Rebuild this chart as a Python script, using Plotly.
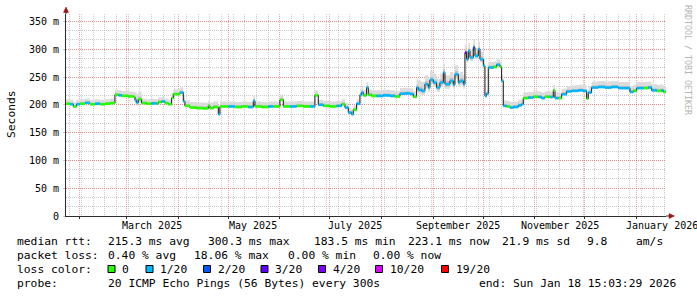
import plotly.graph_objects as go

# ---------------- data ----------------
start_time = "2025-01-23 15:03:29"
end_time = "2026-01-18 15:03:29"

dates = [
    "2025-01-23 15:03", "2025-01-26", "2025-01-28", "2025-01-30", "2025-02-01", "2025-02-04",
    "2025-02-07", "2025-02-10", "2025-02-13", "2025-02-16", "2025-02-19", "2025-02-22",
    "2025-02-24", "2025-02-26", "2025-03-02", "2025-03-05", "2025-03-06", "2025-03-07",
    "2025-03-08", "2025-03-10", "2025-03-13", "2025-03-16", "2025-03-19", "2025-03-20",
    "2025-03-22", "2025-03-24", "2025-03-26", "2025-03-28", "2025-03-29", "2025-04-01",
    "2025-04-02", "2025-04-04", "2025-04-05", "2025-04-08", "2025-04-12", "2025-04-16",
    "2025-04-19", "2025-04-20", "2025-04-22", "2025-04-25", "2025-04-26", "2025-05-01",
    "2025-05-05", "2025-05-09", "2025-05-13", "2025-05-16", "2025-05-17", "2025-05-21",
    "2025-05-25", "2025-05-28", "2025-06-01", "2025-06-03", "2025-06-07", "2025-06-11",
    "2025-06-15", "2025-06-19", "2025-06-22", "2025-06-24", "2025-06-27", "2025-07-01",
    "2025-07-05", "2025-07-08", "2025-07-10", "2025-07-12", "2025-07-14", "2025-07-15",
    "2025-07-17", "2025-07-19", "2025-07-20", "2025-07-21", "2025-07-23", "2025-07-24",
    "2025-07-26", "2025-07-29", "2025-08-02", "2025-08-06", "2025-08-09", "2025-08-12",
    "2025-08-15", "2025-08-18", "2025-08-20", "2025-08-22", "2025-08-23", "2025-08-25",
    "2025-08-27", "2025-08-29", "2025-08-30", "2025-09-01", "2025-09-03", "2025-09-05",
    "2025-09-07", "2025-09-08", "2025-09-11", "2025-09-13", "2025-09-14", "2025-09-16",
    "2025-09-17", "2025-09-19", "2025-09-20", "2025-09-21", "2025-09-22", "2025-09-23",
    "2025-09-25", "2025-09-26", "2025-09-28", "2025-09-29", "2025-10-01", "2025-10-02",
    "2025-10-03", "2025-10-04", "2025-10-07", "2025-10-09", "2025-10-11", "2025-10-12",
    "2025-10-13", "2025-10-15", "2025-10-17", "2025-10-19", "2025-10-22", "2025-10-24",
    "2025-10-25", "2025-10-28", "2025-10-31", "2025-11-03", "2025-11-05", "2025-11-07",
    "2025-11-10", "2025-11-12", "2025-11-13", "2025-11-15", "2025-11-17", "2025-11-20",
    "2025-11-23", "2025-11-27", "2025-11-30", "2025-12-02", "2025-12-03", "2025-12-05",
    "2025-12-09", "2025-12-13", "2025-12-17", "2025-12-21", "2025-12-26", "2025-12-28",
    "2025-12-30", "2026-01-01", "2026-01-05", "2026-01-08", "2026-01-10", "2026-01-13",
    "2026-01-16", "2026-01-17",
]

median_ms = [
    202, 201, 197, 201, 202, 203.5,
    201, 202, 201, 202, 203, 218,
    217, 216, 215, 214.5, 208, 204,
    210, 203, 202, 202.5, 202, 205,
    206, 203, 201, 212, 219, 219.5,
    222, 206, 198, 195, 194, 193.5,
    198, 194, 196, 183, 197, 197,
    196, 197, 196, 207, 197, 196,
    197, 197, 209, 197, 197, 198,
    197, 197, 217, 200, 198, 197,
    198, 201, 195, 186, 183, 191,
    202, 218, 222, 217, 231, 218,
    216, 216, 217, 216, 215, 220,
    220.5, 219.5, 214.5, 231, 227, 225,
    237, 231, 245, 240, 231, 240,
    258, 237, 243, 236, 255, 240,
    243, 237, 294, 282, 297, 285,
    303, 288, 300, 282, 270, 216,
    220, 267, 268, 272, 268, 243,
    198, 197, 195, 196, 199, 201,
    212, 213, 214.5, 214, 212, 214.5,
    214, 226, 212, 212, 219, 224,
    225, 226, 225, 211, 222, 231,
    232, 231, 232, 230, 230, 223,
    225, 230, 230, 231, 226, 225,
    226, 223,
]

# loss bucket index per point (0 = 0/20, 1 = 1/20, 2 = 2/20, 3 = 3/20 ...)
loss_idx = [
    0, 1, 0, 1, 0, 1,
    0, 1, 0, 0, 0, 0,
    1, 0, 0, 0, 1, 1,
    0, 0, 0, 1, 0, 0,
    1, 0, 0, 0, 0, 0,
    1, 1, 0, 0, 0, 0,
    0, 0, 0, 1, 0, 1,
    0, 0, 1, 1, 0, 0,
    1, 0, 0, 0, 1, 0,
    0, 1, 0, 1, 0, 0,
    1, 0, 1, 1, 1, 0,
    1, 1, 1, 0, 1, 0,
    0, 1, 1, 1, 0, 1,
    1, 1, 0, 1, 1, 1,
    1, 1, 1, 1, 1, 1,
    1, 1, 1, 1, 1, 1,
    1, 1, 3, 1, 1, 1,
    2, 1, 1, 1, 1, 1,
    1, 1, 0, 1, 0, 1,
    1, 0, 1, 1, 1, 1,
    0, 1, 0, 1, 1, 0,
    1, 0, 1, 0, 1, 1,
    1, 1, 1, 0, 1, 1,
    1, 1, 1, 1, 1, 1,
    0, 1, 0, 1, 1, 0,
    1, 0,
]

# spread of the ping "smoke" above / below the median (ms)
smoke_up = [
    8, 8, 8, 8, 8, 8,
    8, 8, 8, 8, 8, 9,
    9, 9, 9, 9, 14, 15,
    14, 8, 8, 8, 8, 8,
    8, 8, 8, 9, 9, 9,
    9, 10, 10, 10, 10, 10,
    10, 10, 10, 10, 9, 9,
    9, 9, 9, 9, 9, 9,
    9, 9, 9, 9, 9, 9,
    9, 9, 9, 9, 9, 9,
    9, 9, 8, 8, 8, 8,
    8, 10, 10, 10, 10, 10,
    10, 10, 10, 10, 10, 10,
    10, 10, 10, 16, 16, 16,
    16, 16, 16, 16, 16, 16,
    16, 16, 16, 16, 16, 16,
    16, 16, 14, 14, 14, 14,
    14, 14, 14, 14, 14, 6,
    6, 10, 10, 10, 10, 10,
    10, 10, 10, 10, 10, 10,
    10, 10, 10, 10, 10, 10,
    10, 10, 10, 10, 10, 10,
    10, 10, 10, 11, 11, 11,
    11, 11, 11, 11, 11, 11,
    11, 11, 11, 11, 11, 11,
    11, 11,
]
smoke_down = [
    2, 2, 2, 2, 2, 2,
    2, 2, 2, 2, 2, 2,
    2, 2, 2, 2, 6, 6,
    6, 2, 2, 2, 2, 2,
    2, 2, 2, 2, 2, 2,
    2, 2, 2, 2, 2, 2,
    2, 2, 2, 2, 2, 2,
    2, 2, 2, 2, 2, 2,
    2, 2, 2, 2, 2, 2,
    2, 2, 2, 2, 2, 2,
    2, 2, 3, 3, 3, 3,
    3, 3, 3, 3, 3, 3,
    3, 3, 3, 3, 3, 3,
    3, 3, 3, 8, 8, 8,
    8, 8, 8, 8, 8, 8,
    8, 8, 8, 8, 8, 8,
    8, 8, 6, 6, 6, 6,
    6, 6, 6, 6, 6, 3,
    3, 3, 3, 3, 3, 2,
    2, 2, 2, 2, 2, 2,
    2, 2, 2, 2, 2, 2,
    2, 2, 2, 2, 2, 2,
    2, 2, 2, 2, 2, 2,
    2, 2, 2, 2, 2, 2,
    2, 2, 2, 2, 2, 2,
    2, 2,
]

loss_colors = ["#26ff00", "#00b8ff", "#0059ff", "#5e00ff", "#7e00ff", "#dd00ff", "#ff0000"]
loss_labels = ["0", "1/20", "2/20", "3/20", "4/20", "10/20", "19/20"]

y_tickvals = [0, 50, 100, 150, 200, 250, 300, 350]
y_ticktext = ["0", "50 m", "100 m", "150 m", "200 m", "250 m", "300 m", "350 m"]

month_label_dates = ["2025-03-16", "2025-05-16", "2025-07-16", "2025-09-16", "2025-11-16", "2026-01-16"]
month_labels = ["March 2025", "May 2025", "July 2025", "September 2025", "November 2025", "January 2026"]

rtt_label = "median rtt:"
rtt_stats = ["215.3 ms avg", "300.3 ms max", "183.5 ms min", "223.1 ms now", "21.9 ms sd", "9.8", "am/s"]
loss_label = "packet loss:"
loss_stats = ["0.40 % avg", "18.06 % max", "0.00 % min", "0.00 % now"]
color_label = "loss color:"
probe_label = "probe:"
probe_text = "20 ICMP Echo Pings (56 Bytes) every 300s"
end_text = "end: Sun Jan 18 15:03:29 2026"
y_title = "Seconds"
watermark = "RRDTOOL / TOBI OETIKER"

# ---------------- layout geometry (pixels) ----------------
FW, FH = 697, 297
L, W, T, H = 66, 600, 14, 202
MONO = "DejaVu Sans Mono"
FS = 11.3


def px(x):
    return (x - L) / W


def py(y):
    return (T + H - y) / H


fig = go.Figure()

xs = dates + [end_time]
n = len(median_ms)

# smoke (outer)
lo = [median_ms[i] - smoke_down[i] for i in range(n)]
hi = [median_ms[i] + smoke_up[i] for i in range(n)]
fig.add_trace(go.Scatter(x=xs, y=lo + [lo[-1]], mode="lines", line=dict(width=0, shape="hv"),
                         hoverinfo="skip", showlegend=False))
fig.add_trace(go.Scatter(x=xs, y=hi + [hi[-1]], mode="lines", line=dict(width=0, shape="hv"),
                         fill="tonexty", fillcolor="#dcdcdc", hoverinfo="skip", showlegend=False))
# smoke (inner, darker)
lo2 = [median_ms[i] - 0.5 * smoke_down[i] for i in range(n)]
hi2 = [median_ms[i] + 0.35 * smoke_up[i] for i in range(n)]
fig.add_trace(go.Scatter(x=xs, y=lo2 + [lo2[-1]], mode="lines", line=dict(width=0, shape="hv"),
                         hoverinfo="skip", showlegend=False))
fig.add_trace(go.Scatter(x=xs, y=hi2 + [hi2[-1]], mode="lines", line=dict(width=0, shape="hv"),
                         fill="tonexty", fillcolor="#c4c4c4", hoverinfo="skip", showlegend=False))

# black step connectors of the median
fig.add_trace(go.Scatter(x=xs, y=median_ms + [median_ms[-1]], mode="lines",
                         line=dict(color="#111111", width=1, shape="hv"),
                         hoverinfo="skip", showlegend=False))

# coloured median segments per loss bucket
for b, col in enumerate(loss_colors):
    sx, sy = [], []
    for i in range(n):
        if loss_idx[i] == b:
            sx += [xs[i], xs[i + 1], None]
            sy += [median_ms[i], median_ms[i], None]
    if sx:
        fig.add_trace(go.Scatter(x=sx, y=sy, mode="lines", line=dict(color=col, width=2.6),
                                 hoverinfo="skip", showlegend=False))

annotations = []
shapes = []


def text(x, y, s, size=FS, color="#000000", xanchor="left", angle=0):
    annotations.append(dict(x=px(x), y=py(y), xref="paper", yref="paper", text=s,
                            showarrow=False, xanchor=xanchor, yanchor="middle",
                            textangle=angle, borderpad=0,
                            font=dict(family=MONO, size=size, color=color)))


# x-axis month labels
for d, s in zip(month_label_dates, month_labels):
    annotations.append(dict(x=d, y=py(225), xref="x", yref="paper", text=s, showarrow=False,
                            xanchor="center", yanchor="middle", borderpad=0,
                            font=dict(family=MONO, size=10, color="#000000")))

# y title & watermark
text(11, 114, y_title, size=11.3, xanchor="center", angle=-90)
text(688, 60, watermark, size=8.3, color="#b4b4b4", xanchor="center", angle=90)

# stats block
row1, row2, row3, row4 = 241, 255, 269, 283
text(16, row1, rtt_label)
for xpos, s in zip([107, 207, 313, 406.5, 500.5, 585.5, 635], rtt_stats):
    text(xpos, row1, s)
text(16, row2, loss_label)
for xpos, s in zip([107, 193, 286.5, 371.5], loss_stats):
    text(xpos, row2, s)
text(16, row3, color_label)
box_x = [108, 146, 203.5, 261, 318.5, 375.5, 441.5]
for bx, col, s in zip(box_x, loss_colors, loss_labels):
    shapes.append(dict(type="rect", xref="paper", yref="paper",
                       x0=px(bx), x1=px(bx + 7), y0=py(272.5), y1=py(265.5),
                       fillcolor=col, line=dict(color="#000000", width=1)))
    text(bx + 13, row3, s)
text(16, row4, probe_label)
text(107, row4, probe_text)
text(478, row4, end_text)

# axis arrows
AX = "#2c2c2c"
AR = "#a01010"
shapes.append(dict(type="line", xref="paper", yref="paper", x0=px(66), x1=px(66), y0=py(T), y1=py(10),
                   line=dict(color=AX, width=1)))
shapes.append(dict(type="path", xref="paper", yref="paper",
                   path=f"M {px(63.5)},{py(12.5)} L {px(68.5)},{py(12.5)} L {px(66)},{py(7)} Z",
                   fillcolor=AR, line=dict(color=AR, width=0.5)))
shapes.append(dict(type="line", xref="paper", yref="paper", x0=px(L + W), x1=px(670), y0=py(216), y1=py(216),
                   line=dict(color=AX, width=1)))
shapes.append(dict(type="path", xref="paper", yref="paper",
                   path=f"M {px(669)},{py(213.5)} L {px(669)},{py(218.5)} L {px(674.5)},{py(216)} Z",
                   fillcolor=AR, line=dict(color=AR, width=0.5)))

MGRID = "rgba(235,90,90,0.55)"
GRID = "rgba(160,160,160,0.55)"

fig.update_layout(
    width=FW, height=FH,
    margin=dict(l=L, r=FW - L - W, t=T, b=FH - T - H, pad=0),
    paper_bgcolor="#ffffff", plot_bgcolor="#ffffff",
    showlegend=False,
    annotations=annotations,
    shapes=shapes,
    xaxis=dict(
        type="date", range=[start_time, end_time],
        tickmode="linear", tick0="2025-01-01", dtick="M1",
        showticklabels=False,
        showgrid=True, gridcolor=MGRID, griddash="1px,1px", gridwidth=1,
        ticks="outside", ticklen=2, tickcolor=AX,
        showline=True, linecolor=AX, linewidth=1,
        zeroline=False,
        minor=dict(tick0="2025-01-26", dtick=7 * 86400000, showgrid=True,
                   gridcolor=GRID, griddash="1px,1px", gridwidth=1,
                   ticks="", ticklen=0),
    ),
    yaxis=dict(
        range=[0, H / 0.556],
        tickmode="array", tickvals=y_tickvals, ticktext=y_ticktext,
        tickfont=dict(family=MONO, size=10, color="#000000"),
        showgrid=True, gridcolor=MGRID, griddash="1px,1px", gridwidth=1,
        ticks="outside", ticklen=2, tickcolor=GRID,
        ticklabelstandoff=2,
        showline=True, linecolor=AX, linewidth=1,
        zeroline=False,
        minor=dict(tick0=0, dtick=50 / 3, showgrid=True,
                   gridcolor=GRID, griddash="1px,1px", gridwidth=1),
    ),
)

fig.write_html("out.html")
